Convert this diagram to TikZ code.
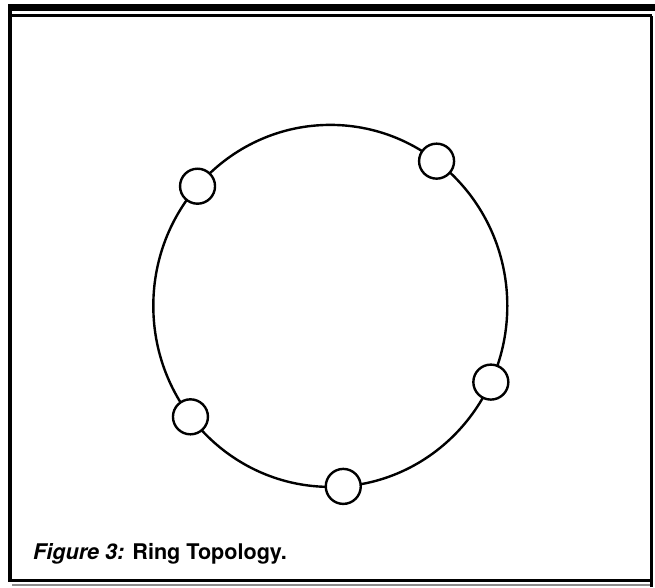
\documentclass[tikz,border=0pt]{standalone}
\usepackage{fontspec}
\setmainfont{TeX Gyre Heros}
\usetikzlibrary{calc}
\tikzset{
  station/.style={draw,circle,fill=white,minimum size=35pt,inner sep=0pt,line width=2.4pt},
  ring/.style={line width=2.4pt},
  rule/.style={line width=3pt}
}

\begin{document}
\begin{tikzpicture}[x=1pt,y=1pt]
  \useasboundingbox (0,0) rectangle (655,588);
  % frame
  \fill (8,576.5) rectangle (655,583.5);
  \draw[rule] (12,572) -- (652,572);
  \draw[line width=3.6pt] (10.2,583.5) -- (10.2,5.5);
  \draw[rule] (651.5,572) -- (651.5,1);
  \draw[rule] (8.5,7) -- (653,7);
  \draw[line width=1.2pt,black!45] (12,3) -- (650,3);

  % ring
  \coordinate (c) at (330.3,282.1);
  \draw[ring] (c) ellipse [x radius=177,y radius=181];

  \node[station] (n1) at ($(c)+(138.6:177 and 181)$) {};
  \node[station] (n2) at ($(c)+(53.1:177 and 181)$) {};
  \node[station] (n3) at ($(c)+(-24.9:177 and 181)$) {};
  \node[station] (n4) at ($(c)+(-85.8:177 and 181)$) {};
  \node[station] (n5) at ($(c)+(-142.2:177 and 181)$) {};

  \node[anchor=base west,inner sep=0pt,font=\fontsize{21.6}{25}\selectfont\bfseries] (cap) at (33,28)
    {\textit{Figure 3:} Ring Topology.};
\end{tikzpicture}
\end{document}
